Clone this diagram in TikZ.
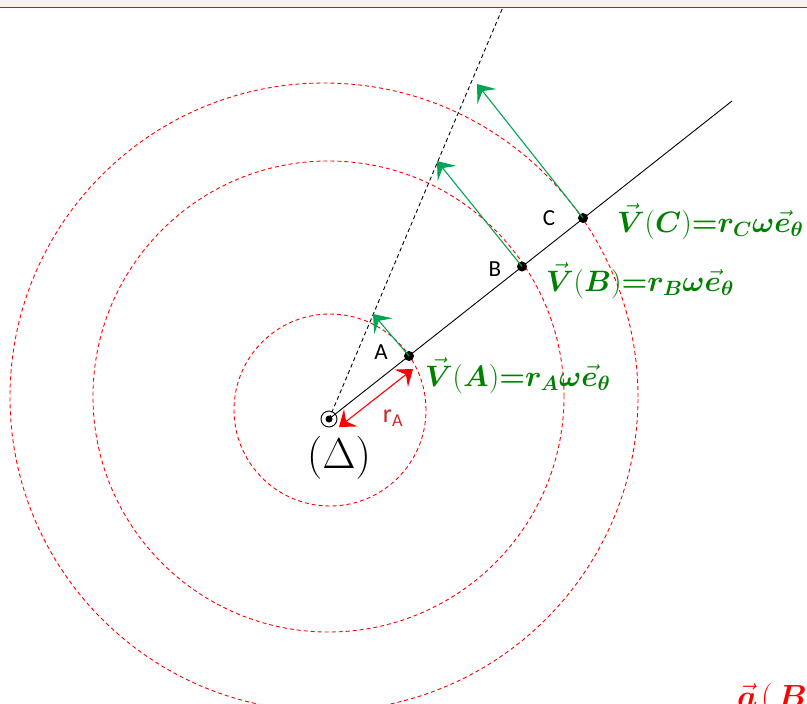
\RequirePackage{fix-cm}
\documentclass[tikz,border=0pt]{standalone}
\usepackage{fontspec}
\setsansfont{Carlito}
\usepackage{amsmath,bm}
\usetikzlibrary{arrows.meta}
\definecolor{lblgreen}{RGB}{0,128,0}
\definecolor{arrgreen}{RGB}{0,166,81}
\definecolor{rlabel}{RGB}{200,40,40}
\definecolor{bandpink}{RGB}{255,240,240}
\tikzset{
  circ/.style={red, line width=0.9pt, dash pattern=on 4pt off 3pt},
  axisline/.style={black, line width=0.9pt},
  dashaxis/.style={black, line width=0.9pt, dash pattern=on 4pt off 3pt},
  garrow/.style={arrgreen, line width=1.1pt, -{Stealth[length=16pt,width=24pt,inset=7pt]}},
  rarrow/.style={red, line width=1.1pt, {Stealth[length=15pt,width=22pt,inset=6pt]}-{Stealth[length=15pt,width=22pt,inset=6pt]}},
  ptdot/.style={circle, fill=black, inner sep=0pt, minimum size=10pt},
  ptlabel/.style={font=\sffamily\fontsize{23}{23}\selectfont, inner sep=0pt},
  vlabel/.style={text=lblgreen, anchor=base west, inner sep=0pt, font=\fontsize{29.5}{30}\selectfont},
}
\begin{document}
\begin{tikzpicture}[x=1pt,y=-1pt]
\path[use as bounding box] (0,0) rectangle (807,704);
\clip (0,0) rectangle (807,704);
% top band
\fill[bandpink] (0,0) rectangle (807,7);
\draw[red, line width=1pt] (0,7) -- (807,7);
% circles
\draw[circ] (330,410) circle[radius=96pt];
\draw[circ] (328.5,396.5) circle[radius=235.5pt];
\draw[circ] (324,397) circle[radius=314pt];
% center and points
\coordinate (O) at (329,419);
\coordinate (E) at (732,101);
\coordinate (D) at (503,7);
\draw[dashaxis] (O) -- (D);
\draw[axisline] (O) -- (E);
\node[ptdot] (A) at (409,356) {};
\node[ptdot] (B) at (522,266.5) {};
\node[ptdot] (C) at (583,218) {};
% velocity arrows
\coordinate (tA) at (373,314);
\coordinate (tB) at (437,161);
\coordinate (tC) at (477,84);
\draw[garrow] (A.center) -- (tA);
\draw[garrow] (B.center) -- (tB);
\draw[garrow] (C.center) -- (tC);
% radius arrow
\coordinate (r1) at (339,427);
\coordinate (r2) at (413,369);
\draw[rarrow] (r1) -- (r2);
\node[text=rlabel, font=\sffamily\fontsize{26}{26}\selectfont, inner sep=0pt] (rA) at (393,418) {r\textsubscript{A}};
% axis symbol
\node[circle, draw=black, line width=0.9pt, minimum size=16pt, inner sep=0pt] (Oc) at (O) {};
\node[circle, fill=black, minimum size=7pt, inner sep=0pt] (Od) at (O) {};
\node[inner sep=0pt, font=\fontsize{43}{43}\selectfont] (Delta) at (339,458) {$(\Delta)$};
% point labels
\node[ptlabel] (lA) at (381,352) {A};
\node[ptlabel] (lB) at (495,269) {B};
\node[ptlabel] (lC) at (549,218) {C};
% velocity labels
\node[vlabel] (vA) at (425,386) {$\vec{\bm V}(\bm A){\bm =}\bm r_{\bm A}\bm\omega\vec{\bm e}_{\bm\theta}$};
\node[vlabel] (vB) at (546,291) {$\vec{\bm V}(\bm B){\bm =}\bm r_{\bm B}\bm\omega\vec{\bm e}_{\bm\theta}$};
\node[vlabel] (vC) at (617,232) {$\vec{\bm V}(\bm C){\bm =}\bm r_{\bm C}\bm\omega\vec{\bm e}_{\bm\theta}$};
% acceleration label (cut by border)
\node[text=red, anchor=base west, inner sep=0pt, font=\fontsize{32}{32}\selectfont] (aB) at (737,707) {$\vec{\bm a}\mkern2mu(\mkern3mu\bm B)$};
\end{tikzpicture}
\end{document}
